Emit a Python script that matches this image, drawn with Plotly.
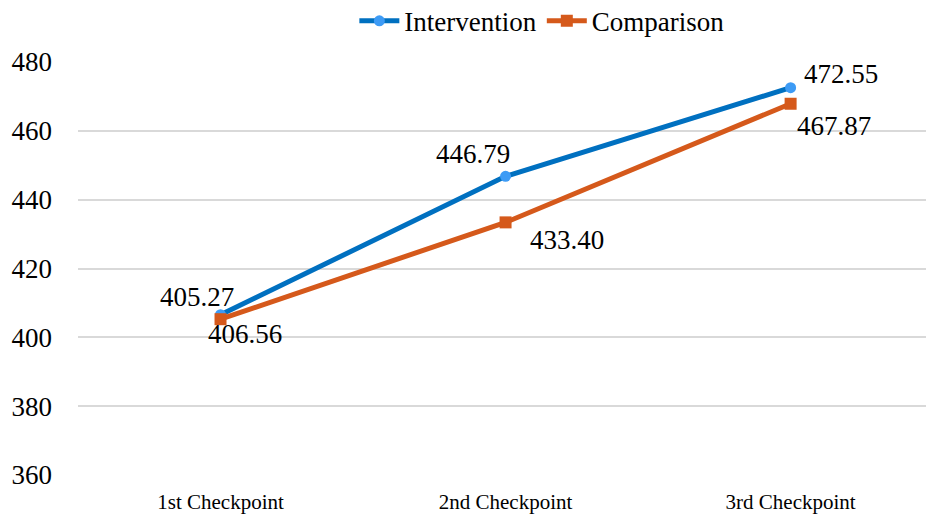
import plotly.graph_objects as go

# Mean scores at each checkpoint
checkpoints = ["1st Checkpoint", "2nd Checkpoint", "3rd Checkpoint"]
intervention = [406.56, 446.79, 472.55]
comparison = [405.27, 433.40, 467.87]
y_ticks = [360, 380, 400, 420, 440, 460, 480]

# Pixel offsets for each value label (x, y), relative to its point
intervention_label_offsets = [(24, -19), (-33, 22), (50, 14)]
comparison_label_offsets = [(-24, 22), (61, -18), (43, -22)]

FONT = "Liberation Serif, Times New Roman, serif"
BLUE_LINE = "#0070C0"
BLUE_MARK = "#3D9BF5"
ORANGE = "#D5591B"

fig = go.Figure()
fig.add_trace(go.Scatter(
    x=checkpoints, y=intervention, name="Intervention", mode="lines+markers",
    line=dict(color=BLUE_LINE, width=5),
    marker=dict(symbol="circle", size=11, color=BLUE_MARK),
))
fig.add_trace(go.Scatter(
    x=checkpoints, y=comparison, name="Comparison", mode="lines+markers",
    line=dict(color=ORANGE, width=5),
    marker=dict(symbol="square", size=12, color=ORANGE),
))

for series, offsets in ((intervention, intervention_label_offsets),
                        (comparison, comparison_label_offsets)):
    for cat, val, (dx, dy) in zip(checkpoints, series, offsets):
        fig.add_annotation(
            x=cat, y=val, text=f"{val:.2f}", showarrow=False,
            xshift=dx, yshift=dy, font=dict(family=FONT, size=27, color="#000000"),
        )

fig.update_layout(
    width=926, height=525,
    margin=dict(l=78, r=0, t=62, b=50, autoexpand=False),
    paper_bgcolor="white", plot_bgcolor="white",
    font=dict(family=FONT, size=27, color="#000000"),
    showlegend=True,
    legend=dict(
        orientation="h", x=0.547, xanchor="center", y=1.158, yanchor="top",
        font=dict(family=FONT, size=27),
        itemwidth=40, bgcolor="rgba(0,0,0,0)",
    ),
)
fig.update_xaxes(
    type="category", range=[-0.5, 2.475], showgrid=False, zeroline=False,
    showline=False, ticks="", tickfont=dict(family=FONT, size=21),
    ticklabelstandoff=12,
)
fig.update_yaxes(
    range=[360, 480], tickvals=y_ticks, showgrid=True, gridcolor="#D9D9D9",
    gridwidth=1.5, zeroline=False, showline=False, ticks="",
    tickfont=dict(family=FONT, size=27), ticklabelstandoff=25,
)

fig.write_html("out.html")
